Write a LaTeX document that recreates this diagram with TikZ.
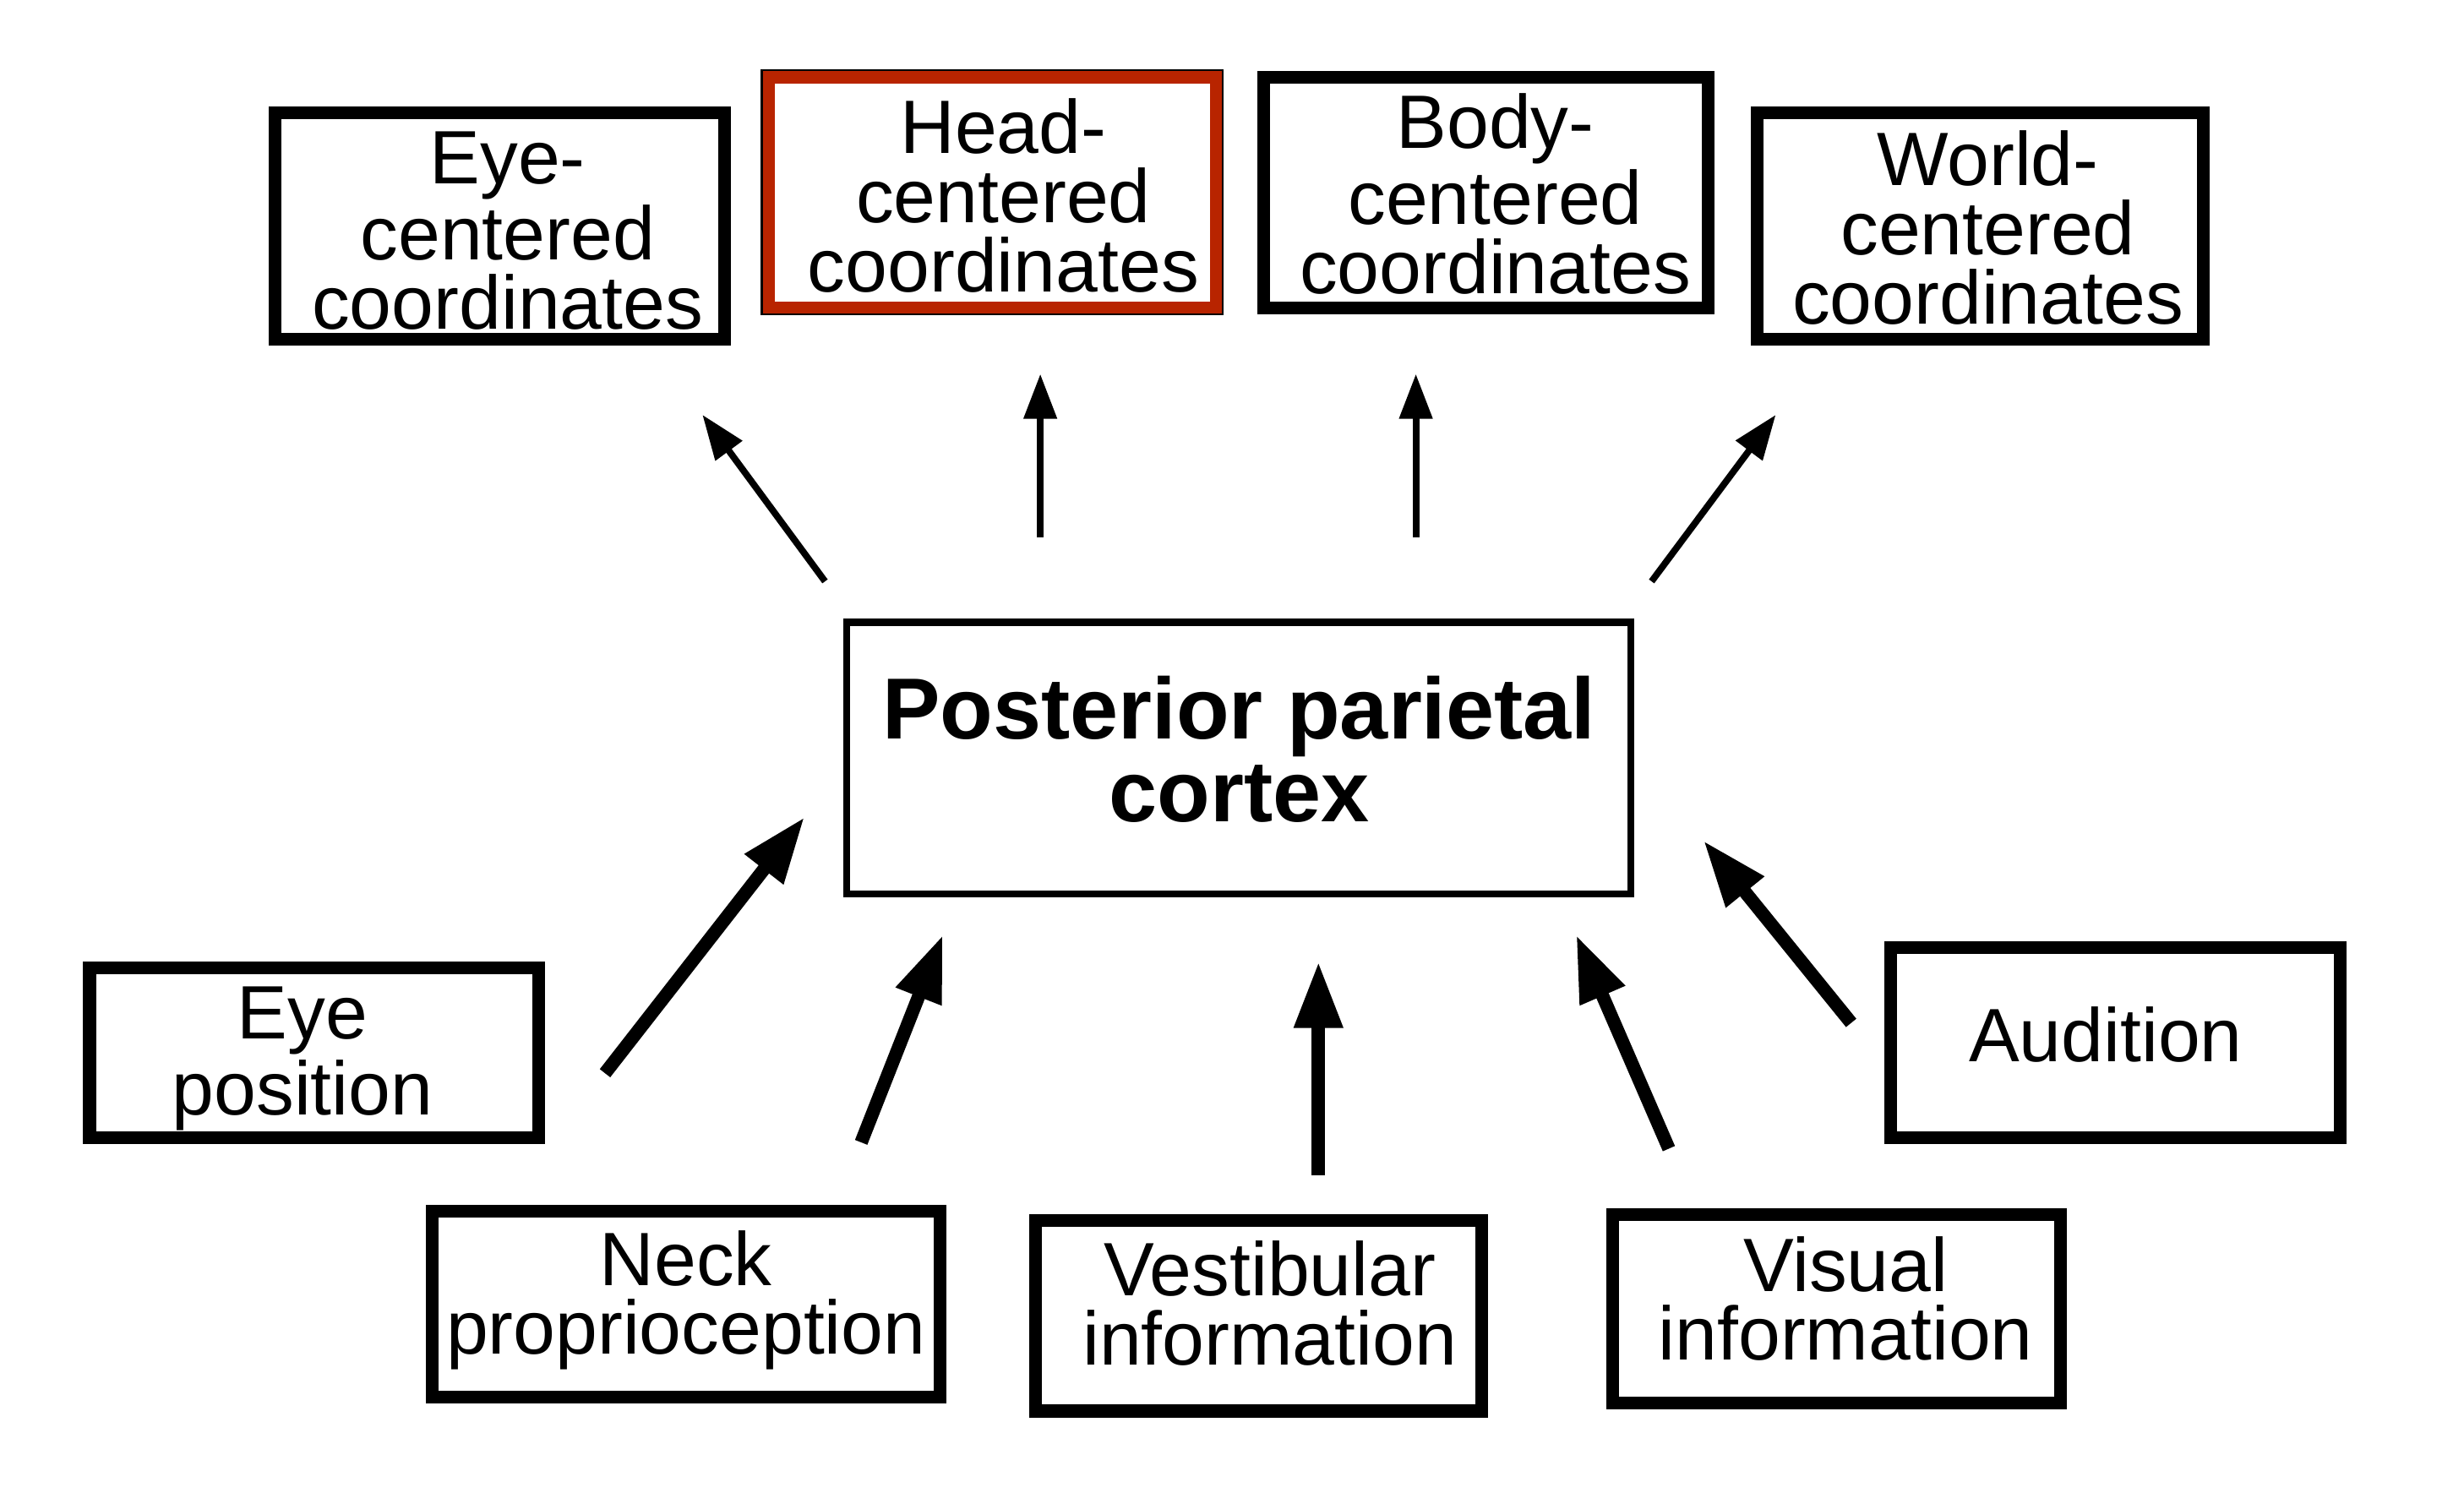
\documentclass[tikz,border=0pt]{standalone}
\usepackage{fontspec}
\setmainfont{Liberation Sans}
\usetikzlibrary{arrows.meta}
\definecolor{boxred}{RGB}{184,36,0}
\tikzset{
  box/.style={draw=black, line width=2.3pt, rectangle, inner sep=0pt, outer sep=0pt},
  redbox/.style={box, draw=boxred},
  mainbox/.style={draw=black, line width=1.25pt, rectangle, inner sep=0pt, outer sep=0pt},
  txt/.style={inner sep=0pt, align=center, font=\fontsize{13.7}{12.5}\selectfont},
  maintxt/.style={inner sep=0pt, align=center, font=\fontsize{15.7}{15}\selectfont\bfseries},
  thinarrow/.style={line width=1.2pt, -{Triangle[width=5.8pt,length=8.1pt]}},
  thickarrow/.style={line width=2.4pt, -{Triangle[width=8.3pt,length=12pt]}}
}
\begin{document}
\begin{tikzpicture}
\useasboundingbox (0,0) rectangle (15.68,9.50);
% top boxes
\node[box, minimum width=2.86cm, minimum height=1.44cm] (eyec) at (3.18,8.06) {};
\node[txt] (eyec-t) at ([shift={(0.05,-0.03)}]eyec.center) {Eye-\\centered\\coordinates};
\node[redbox, minimum width=2.85cm, minimum height=1.47cm] (headc) at (6.315,8.275) {};
\draw[black, line width=0.35pt] ([shift={(-1.2pt,1.2pt)}]headc.north west) rectangle ([shift={(1.2pt,-1.2pt)}]headc.south east);
\node[txt] (headc-t) at ([shift={(0.07,-0.02)}]headc.center) {Head-\\centered\\coordinates};
\node[box, minimum width=2.83cm, minimum height=1.47cm] (bodyc) at (9.455,8.275) {};
\node[txt] (bodyc-t) at ([shift={(0.06,-0.01)}]bodyc.center) {Body-\\centered\\coordinates};
\node[box, minimum width=2.84cm, minimum height=1.44cm] (worldc) at (12.60,8.06) {};
\node[txt] (worldc-t) at ([shift={(0.05,-0.01)}]worldc.center) {World-\\centered\\coordinates};
% central box
\node[mainbox, minimum width=4.99cm, minimum height=1.73cm] (ppc) at (7.885,4.675) {};
\node[maintxt] (ppc-t) at ([shift={(0,0.055)}]ppc.center) {Posterior parietal\\cortex};
% bottom boxes
\node[box, minimum width=2.86cm, minimum height=1.08cm] (eyep) at (2.00,2.80) {};
\node[txt] (eyep-t) at ([shift={(-0.075,-0.04)}]eyep.center) {Eye\\position};
\node[box, minimum width=3.23cm, minimum height=1.18cm] (neck) at (4.365,1.20) {};
\node[txt] (neck-t) at ([shift={(0,0.025)}]neck.center) {Neck\\proprioception};
\node[box, minimum width=2.84cm, minimum height=1.21cm] (vest) at (8.01,1.125) {};
\node[txt] (vest-t) at ([shift={(0.07,0.08)}]vest.center) {Vestibular\\information};
\node[box, minimum width=2.85cm, minimum height=1.20cm] (visual) at (11.685,1.17) {};
\node[txt] (visual-t) at ([shift={(0.06,0.065)}]visual.center) {Visual\\information};
\node[box, minimum width=2.86cm, minimum height=1.21cm] (aud) at (13.46,2.865) {};
\node[txt] (aud-t) at ([shift={(-0.06,0.05)}]aud.center) {Audition};
% arrow end points
\coordinate (u1s) at (5.25,5.80);  \coordinate (u1e) at (4.47,6.86);
\coordinate (u2s) at (6.62,6.08);  \coordinate (u2e) at (6.62,7.12);
\coordinate (u3s) at (9.01,6.08);  \coordinate (u3e) at (9.01,7.12);
\coordinate (u4s) at (10.51,5.80); \coordinate (u4e) at (11.30,6.86);
\coordinate (l1s) at (3.85,2.67);  \coordinate (l1e) at (5.12,4.30);
\coordinate (l2s) at (5.48,2.23);  \coordinate (l2e) at (6.00,3.55);
\coordinate (l3s) at (8.39,2.02);  \coordinate (l3e) at (8.39,3.38);
\coordinate (l4s) at (10.62,2.19); \coordinate (l4e) at (10.03,3.55);
\coordinate (l5s) at (11.78,2.99); \coordinate (l5e) at (10.84,4.15);
% upper arrows
\draw[thinarrow] (u1s) -- (u1e);
\draw[thinarrow] (u2s) -- (u2e);
\draw[thinarrow] (u3s) -- (u3e);
\draw[thinarrow] (u4s) -- (u4e);
% lower arrows
\draw[thickarrow] (l1s) -- (l1e);
\draw[thickarrow] (l2s) -- (l2e);
\draw[thickarrow] (l3s) -- (l3e);
\draw[thickarrow] (l4s) -- (l4e);
\draw[thickarrow] (l5s) -- (l5e);
\end{tikzpicture}
\end{document}
